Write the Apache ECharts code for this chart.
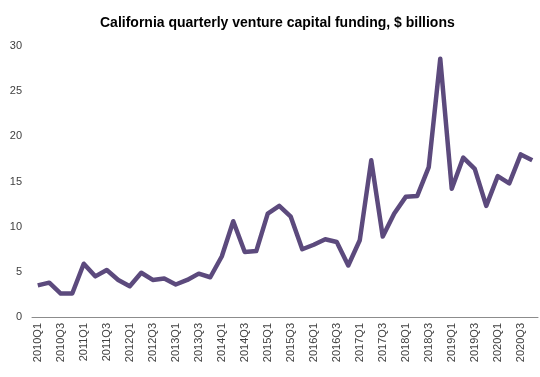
<!DOCTYPE html>
<html>
<head>
<meta charset="utf-8">
<script src="https://cdn.jsdelivr.net/npm/echarts@6/dist/echarts.min.js"></script>
<style>
  html, body { margin: 0; padding: 0; background: #fff; }
  #chart { width: 540px; height: 377px; }
</style>
</head>
<body>
<div id="chart"></div>
<script>
// quarters 2010Q1 .. 2020Q4
const years = ['2010', '2011', '2012', '2013', '2014', '2015', '2016', '2017', '2018', '2019', '2020']
const quarters = []
years.forEach(y => ['Q1', 'Q2', 'Q3', 'Q4'].forEach(q => quarters.push(y + q)))

// funding, $ billions
const funding = [
  3.5, 3.8, 2.6, 2.6,
  5.9, 4.5, 5.2, 4.1,
  3.4, 4.9, 4.1, 4.25,
  3.6, 4.1, 4.8, 4.4,
  6.7, 10.6, 7.2, 7.3,
  11.45, 12.3, 11.1, 7.5,
  8.0, 8.6, 8.3, 5.7,
  8.5, 17.35, 8.9, 11.45,
  13.3, 13.4, 16.6, 28.6,
  14.2, 17.65, 16.4, 12.3,
  15.6, 14.8, 18.0, 17.35
]

const chart = echarts.init(document.getElementById('chart'))
const labelFont = 'Liberation Sans, Arial, sans-serif'

chart.setOption({
  animation: false,
  title: {
    text: 'California quarterly venture capital funding, $ billions',
    left: 95,
    top: 11,
    textStyle: { fontFamily: labelFont, fontSize: 14, fontWeight: 'bold', color: '#000' }
  },
  grid: { left: 32, right: 2, top: 46, bottom: 60 },
  xAxis: {
    type: 'category',
    data: quarters,
    boundaryGap: true,
    axisLine: { lineStyle: { color: '#8c8c8c', width: 1 } },
    axisTick: { show: false },
    axisLabel: {
      interval: 1,
      rotate: 90,
      color: '#404040',
      fontFamily: labelFont,
      fontSize: 11,
      margin: 6
    }
  },
  yAxis: {
    type: 'value',
    min: 0,
    max: 30,
    interval: 5,
    axisLine: { show: false },
    axisTick: { show: false },
    splitLine: { show: false },
    axisLabel: { color: '#404040', fontFamily: labelFont, fontSize: 11, margin: 10 }
  },
  series: [{
    type: 'line',
    data: funding,
    symbol: 'none',
    lineStyle: { color: '#5c4a7d', width: 4.5, join: 'round' }
  }]
})
</script>
</body>
</html>
